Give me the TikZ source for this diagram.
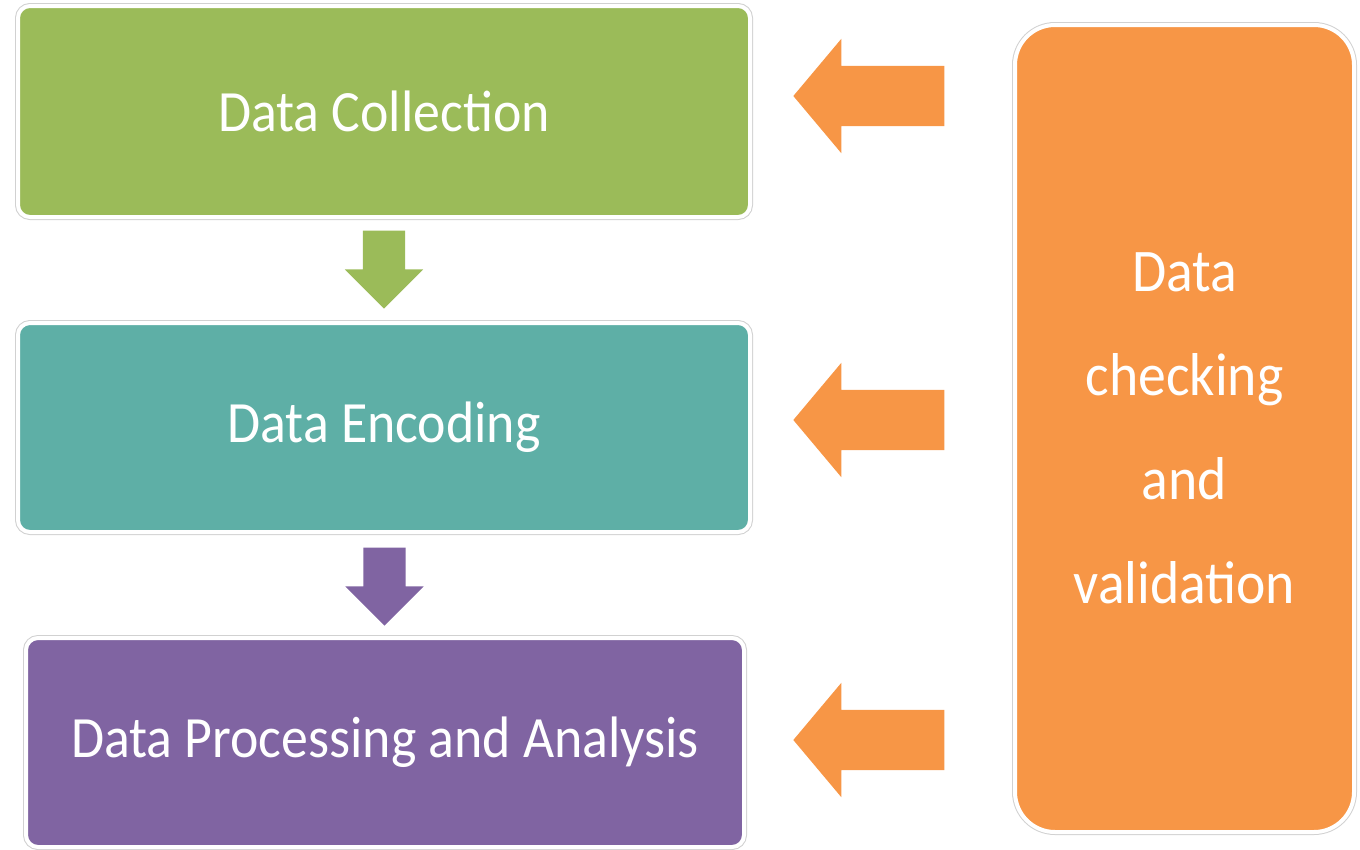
\documentclass[tikz,border=0pt]{standalone}
\usepackage{fontspec}
\setmainfont{Carlito}[FakeStretch=0.92]
\usetikzlibrary{shapes.arrows,calc}

\definecolor{collectgreen}{HTML}{9BBB59}
\definecolor{encodeteal}{HTML}{5EAFA6}
\definecolor{analysepurple}{HTML}{8064A2}
\definecolor{checkorange}{HTML}{F79646}

\tikzset{
  stage/.style={rounded corners=12pt, draw=white, line width=4pt, text=white,
    preaction={draw=black!18, line width=6pt}, font=\fontsize{58.5}{68}\selectfont},
  downarrow/.style={single arrow, shape border rotate=270, inner sep=21pt,
    minimum height=78pt, single arrow head extend=18pt,
    single arrow tip angle=90},
  leftarrow/.style={single arrow, shape border rotate=180, fill=checkorange, inner sep=30pt,
    minimum height=151pt, single arrow head extend=27pt,
    single arrow tip angle=100}
}

\begin{document}
\begin{tikzpicture}[x=1pt,y=1pt,yscale=-1,xscale=1]
    \useasboundingbox (0,0) rectangle (1360,849);

    % the three stages
    \node [stage, fill=collectgreen, minimum width=732pt, minimum height=211pt] (collect) at (384,111.5) {Data Collection};
    \node [stage, fill=encodeteal, minimum width=732pt, minimum height=209pt] (encode) at (384,427.5) {Data Encoding};
    \node [stage, fill=analysepurple, minimum width=718pt, minimum height=209pt] (analyse) at (385,742.5) {Data Processing and Analysis};

    % checking runs beside all of them
    \node [stage, fill=checkorange, rounded corners=40pt, minimum width=339pt, minimum height=807pt,
      align=center, font=\fontsize{60.5}{104}\selectfont] (check) at (1184.5,428.5) {Data\\checking\\and\\validation};

    % flow between stages
    \node [downarrow, fill=collectgreen] (flowa) at ($(collect.south)!0.5!(encode.north)+(0,-11)$) {};
    \node [downarrow, fill=analysepurple] (flowb) at ($(encode.south)!0.5!(analyse.north)+(0,-9)$) {};

    % feedback from checking
    \node [leftarrow] (checka) at (881.5,96) {};
    \node [leftarrow] (checkb) at (881.5,420) {};
    \node [leftarrow] (checkc) at (881.5,740) {};
\end{tikzpicture}
\end{document}
